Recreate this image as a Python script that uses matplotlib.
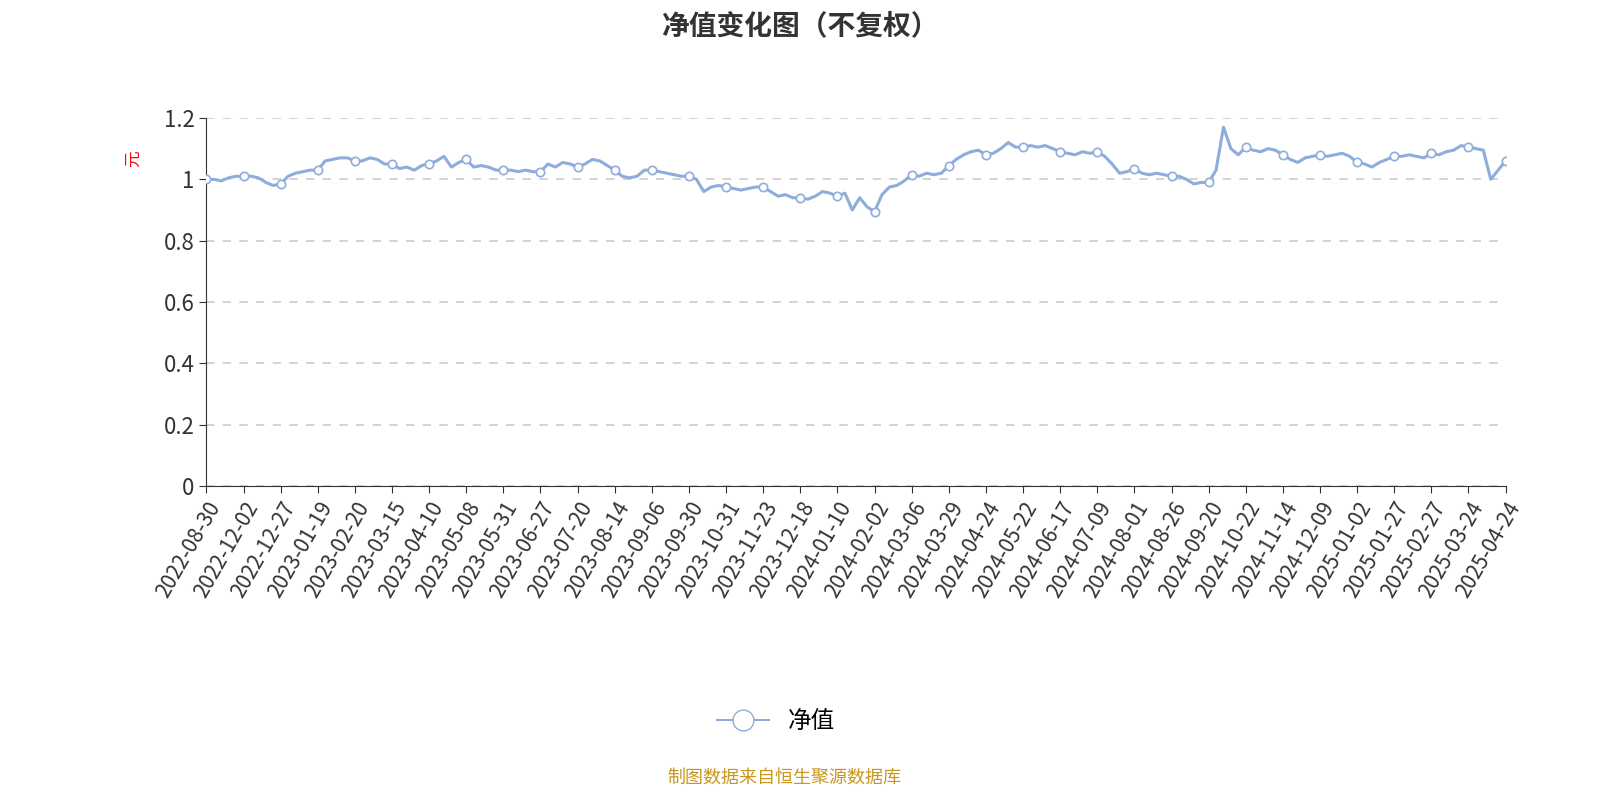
import matplotlib.pyplot as plt
import numpy as np

plt.rcParams['font.family'] = ['Noto Sans CJK SC', 'DejaVu Sans']

tick_dates = [
    "2022-08-30", "2022-12-02", "2022-12-27", "2023-01-19", "2023-02-20", "2023-03-15",
    "2023-04-10", "2023-05-08", "2023-05-31", "2023-06-27", "2023-07-20", "2023-08-14",
    "2023-09-06", "2023-09-30", "2023-10-31", "2023-11-23", "2023-12-18", "2024-01-10",
    "2024-02-02", "2024-03-06", "2024-03-29", "2024-04-24", "2024-05-22", "2024-06-17",
    "2024-07-09", "2024-08-01", "2024-08-26", "2024-09-20", "2024-10-22", "2024-11-14",
    "2024-12-09", "2025-01-02", "2025-01-27", "2025-02-27", "2025-03-24", "2025-04-24",
]

# net value: one value at each tick date followed by four in-between readings
nav = [
    1.00, 1.00, 0.995, 1.005, 1.01,
    1.01, 1.01, 1.005, 0.99, 0.98,
    0.985, 1.01, 1.02, 1.025, 1.03,
    1.03, 1.06, 1.065, 1.07, 1.07,
    1.06, 1.06, 1.07, 1.065, 1.05,
    1.05, 1.035, 1.04, 1.03, 1.045,
    1.05, 1.06, 1.075, 1.04, 1.055,
    1.065, 1.04, 1.045, 1.04, 1.03,
    1.03, 1.03, 1.025, 1.03, 1.025,
    1.025, 1.05, 1.04, 1.055, 1.05,
    1.04, 1.05, 1.065, 1.06, 1.045,
    1.03, 1.01, 1.005, 1.01, 1.03,
    1.03, 1.025, 1.02, 1.015, 1.01,
    1.01, 1.00, 0.96, 0.975, 0.98,
    0.975, 0.97, 0.965, 0.97, 0.975,
    0.975, 0.96, 0.945, 0.95, 0.94,
    0.94, 0.935, 0.945, 0.96, 0.955,
    0.945, 0.955, 0.90, 0.94, 0.91,
    0.895, 0.95, 0.975, 0.98, 0.995,
    1.015, 1.01, 1.02, 1.015, 1.02,
    1.045, 1.065, 1.08, 1.09, 1.095,
    1.08, 1.085, 1.10, 1.12, 1.105,
    1.105, 1.11, 1.105, 1.11, 1.10,
    1.09, 1.085, 1.08, 1.09, 1.085,
    1.09, 1.075, 1.05, 1.02, 1.025,
    1.035, 1.02, 1.015, 1.02, 1.015,
    1.01, 1.01, 1.00, 0.985, 0.99,
    0.99, 1.03, 1.17, 1.10, 1.08,
    1.105, 1.095, 1.09, 1.10, 1.095,
    1.08, 1.065, 1.055, 1.07, 1.075,
    1.08, 1.075, 1.08, 1.085, 1.075,
    1.055, 1.05, 1.04, 1.055, 1.065,
    1.075, 1.075, 1.08, 1.075, 1.07,
    1.085, 1.08, 1.09, 1.095, 1.11,
    1.105, 1.10, 1.095, 1.00, 1.03,
    1.06,
]

step = 5
x = np.arange(len(nav))
tick_pos = x[::step]

fig = plt.figure(figsize=(16, 8), dpi=100)
ax = fig.add_axes([0.129, 0.3925, 0.812, 0.46])
color = "#8eacdc"
ax.plot(x, nav, color=color, lw=2.2, zorder=3)
ax.plot(tick_pos, np.array(nav)[::step], "o", ms=6, mfc="white", mec=color, mew=1.2, zorder=4)
ax.plot([], [], "-o", color=color, ms=15, mfc="white", mec=color, lw=1.5, label="净值")

ax.set_xlim(0, len(nav) - 1)
ax.set_ylim(0, 1.2)
ax.set_yticks([0, 0.2, 0.4, 0.6, 0.8, 1.0, 1.2])
ax.set_yticklabels(["0", "0.2", "0.4", "0.6", "0.8", "1", "1.2"], fontsize=16, color="#333333")
ax.set_xticks(tick_pos)
ax.set_xticklabels(tick_dates, rotation=60, ha="right", rotation_mode="anchor", fontsize=15, color="#333333")
ax.yaxis.grid(True, ls=(0, (5, 5)), color="#cccccc", lw=1.2)
ax.spines[["top", "right"]].set_visible(False)
ax.spines["left"].set_color("#333333")
ax.spines["bottom"].set_color("#333333")
ax.tick_params(length=5, color="#333333")
ax.set_ylabel("元", color="red", fontsize=12)
ax.yaxis.set_label_coords(-0.05, 0.89)

fig.suptitle("净值变化图（不复权）", fontsize=20, fontweight="bold", color="#333333", y=0.985)
fig.legend(loc="center", bbox_to_anchor=(0.485, 0.098), frameon=False, fontsize=17, handlelength=2.2)
fig.text(0.49, 0.022, "制图数据来自恒生聚源数据库", ha="center", color="#c8961e", fontsize=13)

fig.savefig("out.png")
